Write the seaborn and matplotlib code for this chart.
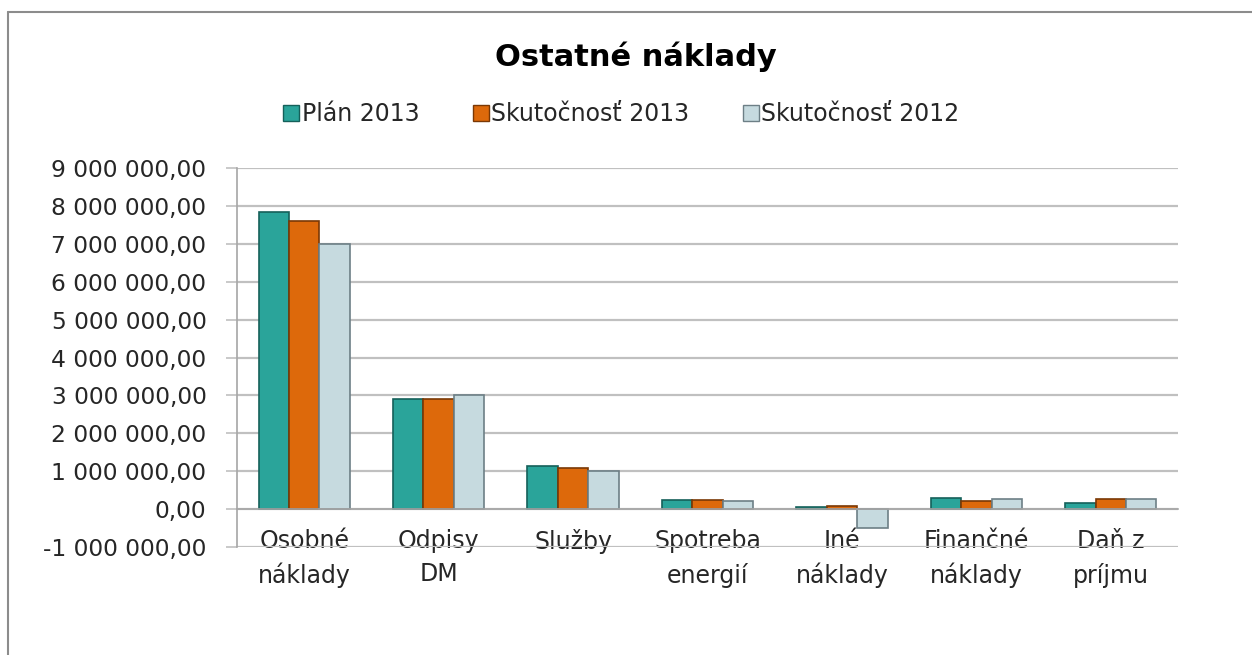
import matplotlib
matplotlib.use("Agg")
import matplotlib.pyplot as plt
import matplotlib.ticker as mticker
from matplotlib.lines import Line2D
import seaborn as sns
import pandas as pd

categories = ["Osobné\nnáklady", "Odpisy\nDM", "Služby", "Spotreba\nenergií",
              "Iné\nnáklady", "Finančné\nnáklady", "Daň z\npríjmu"]
series = ["Plán 2013", "Skutočnosť 2013", "Skutočnosť 2012"]
plan_2013 = [7850000, 2900000, 1150000, 230000, 60000, 280000, 150000]
skut_2013 = [7600000, 2900000, 1090000, 230000, 80000, 210000, 270000]
skut_2012 = [7000000, 3010000, 1000000, 220000, -500000, 260000, 260000]
colors = ["#2aa49a", "#dd690b", "#c6dadf"]
edges = ["#15605a", "#7a3805", "#6d7f86"]

rows = []
for s, vals in zip(series, [plan_2013, skut_2013, skut_2012]):
    for c, v in zip(categories, vals):
        rows.append({"cat": c, "series": s, "val": v})
df = pd.DataFrame(rows)

sns.set_theme(style="white")
plt.rcParams["font.family"] = ["DejaVu Sans"]

fig = plt.figure(figsize=(12.52, 6.55), dpi=100)
ax = fig.add_axes([237/1252, 1-547/655, (1178-237)/1252, (547-168)/655])

sns.barplot(data=df, x="cat", y="val", hue="series", order=categories,
            hue_order=series, palette=colors, saturation=1, width=0.68,
            ax=ax, legend=False)
for cont, ec in zip(ax.containers, edges):
    for p in cont:
        p.set_edgecolor(ec)
        p.set_linewidth(1.2)

ax.set_ylim(-1000000, 9000000)
ax.set_xlim(-0.5, len(categories) - 0.5)
ax.yaxis.set_major_locator(mticker.MultipleLocator(1000000))

def fmt(v, pos):
    s = f"{abs(v):,.2f}".replace(",", " ").replace(".", ",")
    return ("-" if v < 0 else "") + s
ax.yaxis.set_major_formatter(mticker.FuncFormatter(fmt))

ax.grid(axis="y", color="#c0c0c0", linewidth=1.6)
ax.set_axisbelow(True)
ax.set_xlabel("")
ax.set_ylabel("")
for sp in ["top", "right"]:
    ax.spines[sp].set_visible(False)
ax.spines["left"].set_color("#a6a6a6")
ax.spines["left"].set_linewidth(1.2)
ax.spines["bottom"].set_position(("data", 0))
ax.spines["bottom"].set_color("#a6a6a6")
ax.spines["bottom"].set_linewidth(1.2)

ax.set_xticks(range(len(categories)))
ax.set_xticklabels(categories, fontsize=17, color="#262626", linespacing=1.5)
ax.set_xticks([i - 0.5 for i in range(len(categories) + 1)], minor=True)
ax.tick_params(axis="x", which="major", length=0, pad=14)
ax.tick_params(axis="x", which="minor", length=7, width=1.2, color="#a6a6a6", direction="out")
ax.tick_params(axis="y", length=8, width=1.2, color="#c0c0c0", pad=14,
               labelsize=16.8, labelcolor="#262626", left=True)

fig.text(0.508, 1-57/655, "Ostatné náklady", ha="center", va="center",
         fontsize=22, fontweight="bold", color="#000000")

handles = [Line2D([0], [0], marker="s", linestyle="none", markersize=11,
                  markerfacecolor=c, markeredgecolor=e, markeredgewidth=1)
           for c, e in zip(colors, edges)]
fig.legend(handles, series, loc="center", bbox_to_anchor=(0.4956, 1-114/655),
           ncol=3, frameon=False, fontsize=17, handletextpad=0.05,
           columnspacing=2.2, handlelength=0.8, labelcolor="#262626")

fig.add_artist(Line2D([8/1252, 1.0], [1-12/655, 1-12/655], transform=fig.transFigure,
                      color="#8c8c8c", linewidth=1.5))
fig.add_artist(Line2D([8/1252, 8/1252], [0, 1-12/655], transform=fig.transFigure,
                      color="#8c8c8c", linewidth=1.5))

fig.savefig("out.png", dpi=100)
